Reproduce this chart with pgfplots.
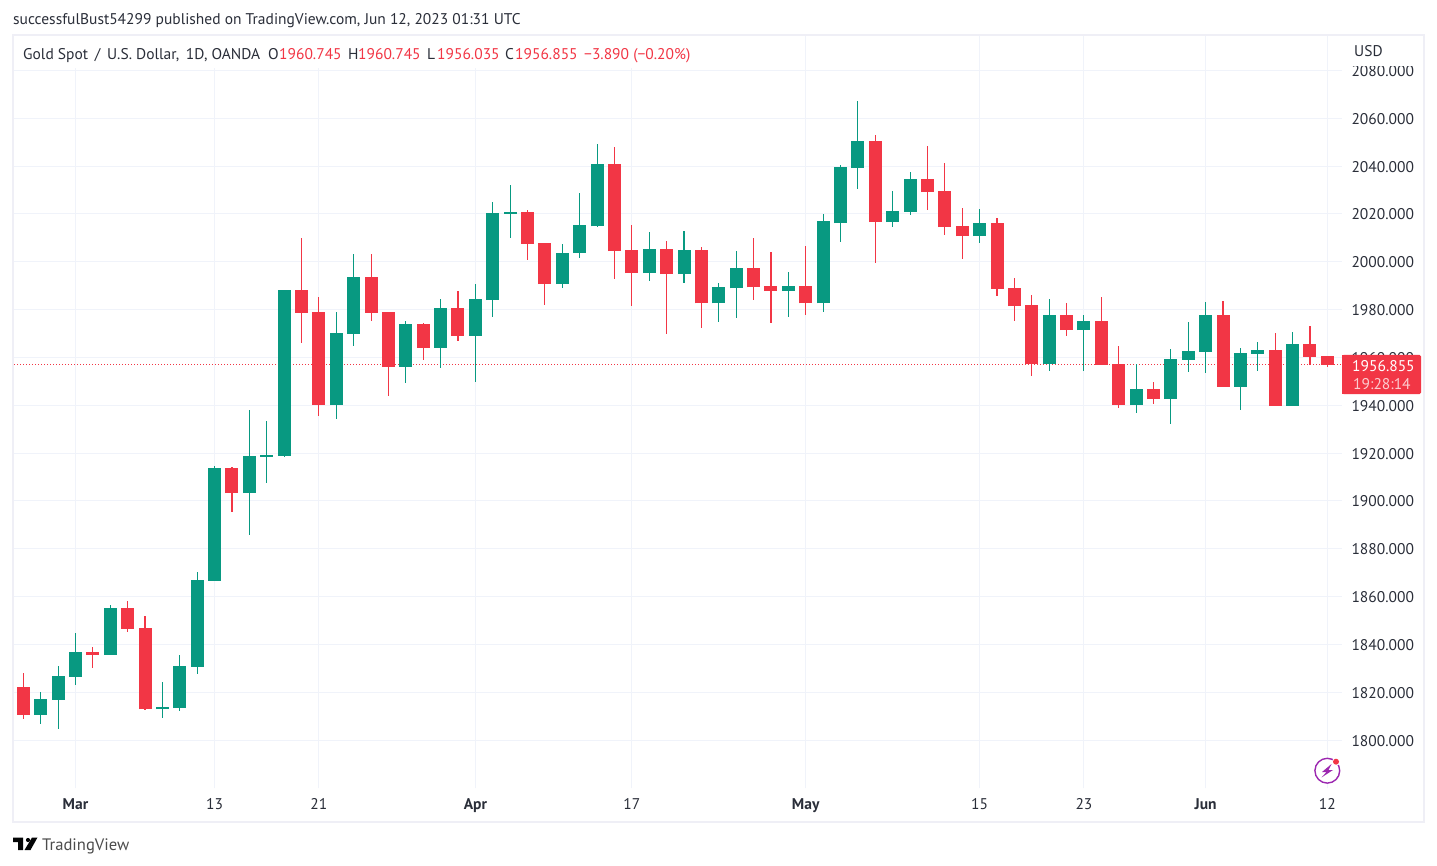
\documentclass[border=0pt]{standalone}
\usepackage{fontspec}
\setmainfont{PT Sans}
\usepackage{pgfplots}
\usepackage{pgfplotstable}
\pgfplotsset{compat=1.18}
\definecolor{cRed}{HTML}{F23645}
\definecolor{cGreen}{HTML}{089981}
\definecolor{cGrid}{HTML}{F0F3FA}
\definecolor{cFrame}{HTML}{EFEFF6}
\definecolor{cText}{HTML}{2A2E39}
\definecolor{cPurple}{HTML}{9C27B0}
\pgfplotstableread{
i h top bot l
0 1828.1 1822.2 1810.5 1808.9
4 1839.0 1836.9 1835.6 1830.2
6 1858.2 1855.3 1846.5 1845.2
7 1851.9 1846.9 1813.0 1812.6
12 1914.2 1913.8 1903.3 1895.4
16 2010.0 1988.2 1978.6 1966.1
17 1985.3 1979.0 1940.1 1935.5
20 2003.3 1993.7 1978.6 1975.3
21 1979.0 1979.0 1956.0 1943.9
23 1974.4 1974.0 1964.0 1959.0
25 1987.8 1980.7 1969.0 1966.9
29 2021.7 2020.8 2007.5 2000.8
30 2007.9 2007.9 1990.7 1982.0
34 2047.9 2040.8 2004.4 1992.7
35 2015.3 2004.8 1995.2 1981.4
37 2008.6 2005.2 1994.8 1969.7
39 2006.0 2004.8 1982.6 1972.2
42 2009.8 1997.3 1989.3 1983.9
43 2004.0 1989.8 1987.7 1974.3
45 2006.5 1989.8 1982.6 1977.6
49 2053.0 2050.5 2016.6 1999.4
52 2048.4 2034.6 2029.1 2021.6
53 2041.3 2029.5 2014.5 2011.2
54 2022.4 2014.9 2010.7 2001.1
56 2018.3 2016.2 1988.6 1985.6
57 1993.2 1989.0 1981.5 1975.2
58 1986.1 1981.9 1957.2 1952.2
60 1982.7 1977.7 1971.4 1968.9
62 1985.3 1975.3 1956.9 1956.9
63 1964.8 1957.3 1940.1 1938.9
65 1949.8 1946.8 1942.6 1940.6
69 1983.6 1977.8 1947.7 1947.7
72 1970.2 1963.1 1939.7 1939.7
74 1973.2 1965.6 1960.2 1956.9
75 1960.745 1960.745 1956.855 1956.035
}\redT
\pgfplotstableread{
i h top bot l
1 1820.1 1817.2 1810.5 1806.8
2 1831.0 1826.8 1816.8 1804.7
3 1844.8 1836.9 1826.4 1823.1
5 1856.5 1855.3 1835.6 1835.6
8 1824.3 1813.9 1813.0 1809.3
9 1835.6 1831.0 1813.4 1812.2
10 1870.3 1867.0 1830.6 1827.7
11 1914.6 1913.8 1866.6 1866.6
13 1938.0 1918.8 1903.3 1885.8
14 1933.4 1919.2 1918.4 1907.5
15 1988.2 1988.2 1918.8 1918.4
18 1979.0 1970.2 1940.1 1934.3
19 2003.3 1993.7 1969.8 1964.8
22 1975.3 1974.0 1956.0 1949.3
24 1984.5 1980.7 1964.0 1955.6
26 1990.7 1984.5 1969.0 1949.8
27 2025.0 2020.4 1984.0 1976.9
28 2032.1 2020.8 2020.0 2010.0
31 2007.5 2003.7 1990.7 1989.1
32 2028.6 2015.3 2003.6 2001.5
33 2049.1 2040.8 2014.8 2014.4
36 2012.3 2005.2 1995.2 1991.8
38 2012.8 2004.8 1994.8 1991.0
40 1991.0 1989.3 1982.6 1974.7
41 2004.4 1997.3 1988.9 1976.4
44 1995.6 1989.8 1987.7 1976.8
46 2019.9 2016.9 1982.6 1978.9
47 2040.4 2039.6 2016.2 2008.2
48 2067.2 2050.5 2039.2 2030.4
50 2029.5 2021.2 2016.6 2014.5
51 2037.5 2034.6 2020.8 2019.5
55 2022.0 2016.2 2010.7 2007.8
59 1984.4 1977.7 1957.2 1954.3
61 1977.7 1975.2 1971.4 1954.3
64 1957.3 1946.8 1940.1 1936.8
66 1963.6 1959.4 1942.6 1932.2
67 1974.8 1962.7 1959.0 1953.9
68 1983.2 1977.8 1962.3 1953.5
70 1964.0 1961.9 1947.7 1938.0
71 1966.5 1963.1 1961.5 1954.4
73 1970.7 1965.6 1939.7 1939.7
}\greenT
\newcommand{\fs}{\fontsize{15.5}{17}\selectfont}
\newcommand{\wicks}[2]{\addplot[draw=none,mark=none,forget plot,
  error bars/.cd,y dir=both,y explicit,error mark=none,
  error bar style={draw=#1,line width=1.1pt}]
  table[x=i,y=bot,y error plus expr=\thisrow{h}-\thisrow{bot},y error minus expr=\thisrow{bot}-\thisrow{l}]{#2};}
\newcommand{\bodies}[2]{\addplot[draw=none,mark=none,forget plot,
  error bars/.cd,y dir=plus,y explicit,error mark=none,
  error bar style={draw=#1,line width=13pt}]
  table[x=i,y=bot,y error plus expr=\thisrow{top}-\thisrow{bot}]{#2};}
\begin{document}
\begin{tikzpicture}[x=1pt,y=-1pt]
\path[use as bounding box] (0,0) rectangle (1437,866);
\fill[white] (0,0) rectangle (1437,866);
\draw[cFrame,line width=2pt] (13,35) rectangle (1424,822);
\begin{axis}[
  at={(14pt,-788pt)},anchor=south west,scale only axis,
  width=1328pt,height=752pt,
  xmin=-0.535,xmax=75.84,ymin=1779.97,ymax=2094.4,
  xtick={3,11,17,26,35,45,55,61,68,75},
  xticklabels={\textbf{Mar},13,21,\textbf{Apr},17,\textbf{May},15,23,\textbf{Jun},12},
  ytick={1800,1820,1840,1860,1880,1900,1920,1940,1960,1980,2000,2020,2040,2060,2080},
  yticklabel pos=right,
  xmajorgrids,ymajorgrids,
  major grid style={draw=cGrid,line width=1pt},
  major tick length=0pt,
  tick style={draw=none},
  axis line style={draw=none},
  xticklabel style={font=\fs,text=cText,anchor=base,yshift=-21.5pt},
  yticklabel style={font=\fs,text=cText,anchor=west,xshift=6pt,yshift=-0.6pt,
    /pgf/number format/.cd,fixed,fixed zerofill,precision=3,1000 sep={},assume math mode=true},
]
\addplot[cRed,line width=1pt,dash pattern=on 1pt off 2pt,forget plot] coordinates {(-0.535,1956.855) (75.84,1956.855)};
\wicks{cRed}{\redT}
\wicks{cGreen}{\greenT}
\bodies{cRed}{\redT}
\bodies{cGreen}{\greenT}
\end{axis}
% header texts
\node[anchor=base west,inner sep=0,font=\fs,text=cText] at (13,25) {successfulBust54299 published on TradingView.com, Jun 12, 2023 01:31 UTC};
\fill[white] (14,36) rectangle (700,68);
\fill[white] (1343,36) rectangle (1420,66);
\begin{scope}[every node/.style={anchor=base west,inner sep=0,font=\fs}]
\node[text=cText] at (23,60) {Gold Spot\, /\, U.S. Dollar,\, 1D, OANDA};
\node[text=cText] at (268,60) {O};
\node[text=cRed] at (279,60) {1960.745};
\node[text=cText] at (348,60) {H};
\node[text=cRed] at (358,60) {1960.745};
\node[text=cText] at (427,60) {L};
\node[text=cRed] at (437,60) {1956.035};
\node[text=cText] at (505,60) {C};
\node[text=cRed] at (515,60) {1956.855};
\node[text=cRed] at (584,60) {−3.890 (−0.20\%)};
\node[text=cText] at (1354,56.5) {USD};
\end{scope}
% price tag
\fill[cRed,rounded corners=1.5pt] (1342,355) rectangle (1421,394);
\fill[cRed] (1342,355) rectangle (1350,394);
\node[anchor=base west,inner sep=0,font=\fs,text=white] at (1352,371) {1956.855};
\node[anchor=base west,inner sep=0,font=\fs,text=white,opacity=0.75] at (1353,389.5) {19:28:14};
% lightning icon
\fill[white] (1327.3,770.7) circle (13);
\draw[cPurple,line width=1.4pt] (1327.3,770.7) circle (12.4);
\fill[cPurple] (1331.5,764) -- (1322,772) -- (1326.5,772) -- (1321.5,777.5) -- (1333,770) -- (1328.5,770) -- cycle;
\fill[white] (1336,761.7) circle (4);
\fill[cRed] (1336,761.7) circle (3);
% logo
\fill[black!90!cText] (13,837.5) -- (23,837.5) -- (23,850) -- (18,850) -- (18,842) -- (13,842) -- cycle;
\fill[black!90!cText] (28,840) circle (2.1);
\fill[black!90!cText] (32,837.5) -- (37.5,837.5) -- (30.5,850) -- (24.5,850) -- cycle;
\node[anchor=base west,inner sep=0,font=\fontsize{16.6}{18}\selectfont,text=black!70!white] at (42,850) {TradingView};
\end{tikzpicture}
\end{document}
